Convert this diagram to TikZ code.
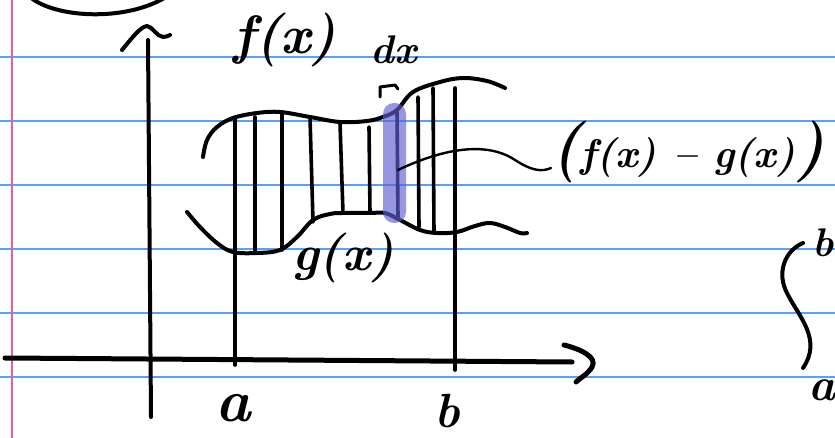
\documentclass[tikz,border=0pt]{standalone}
\definecolor{rule}{RGB}{96,160,232}
\definecolor{margin}{RGB}{238,90,165}
\definecolor{hilite}{RGB}{94,94,209}
\tikzset{
  pen/.style={draw=black,line width=4pt},
  thinpen/.style={draw=black,line width=2.4pt},
  hatch/.style={draw=black,line width=3.6pt},
  axis/.style={draw=black,line width=5pt},
  hand/.style={inner sep=0pt,font=\bfseries\itshape},
}
\newcommand{\sz}[1]{\fontsize{#1}{#1}\selectfont}
\begin{document}
\begin{tikzpicture}[x=1pt,y=-1pt,line cap=round,line join=round]
\useasboundingbox (0,0) rectangle (835,438);
\fill[white] (0,0) rectangle (835,438);

% ruled paper
\foreach \y in {57,121,185,249,313,377}
  \draw[rule,line width=1.8pt] (0,\y) -- (835,\y);
\draw[margin,line width=1.8pt] (12,0) -- (12,438);

% stray arc at the top
\draw[pen] (30,-3) .. controls (55,18) and (125,22) .. (166,-3);

% axes
\draw[pen] (148,40) -- (151,417);
\draw[pen] (122,50) .. controls (132,38) and (140,27) .. (147,26)
  .. controls (153,27) and (156,36) .. (163,37) .. controls (166,37) and (168,36) .. (170,35);
\draw[axis] (5,358) -- (572,362);
\draw[axis] (564,345) .. controls (580,349) and (598,357) .. (592,367)
  .. controls (588,374) and (580,378) .. (576,382);

% upper curve f(x)
\draw[pen] plot[smooth,tension=0.6] coordinates {(203,157) (207,140) (217,127) (233,118)
  (257,113) (280,112) (310,117) (340,122) (367,121) (383,117) (397,110) (413,92)
  (440,82) (463,78) (487,81) (505,88)};
% lower curve g(x)
\draw[pen] plot[smooth,tension=0.6] coordinates {(187,212) (200,227) (217,243) (233,252)
  (257,253) (280,250) (297,237) (313,220) (330,214) (343,213) (370,213) (385,213)
  (400,220) (420,230) (437,233) (457,232) (475,226) (490,223) (505,227) (520,233) (527,233)};

% limits a and b
\draw[hatch] (235,118) -- (235,365);
\draw[hatch] (455,88) -- (455,370);
% strips between the curves
\draw[hatch] (255,117) -- (255,253);
\draw[hatch] (282,112) -- (282,250);
\draw[hatch] (310,117) -- (313,222);
\draw[hatch] (340,123) -- (343,213);
\draw[hatch] (369,127) -- (370,213);
\draw[hatch] (397,112) -- (398,217);
\draw[hatch] (418,97) -- (419,227);
\draw[hatch] (433,88) -- (434,233);

% highlighted strip of width dx
\fill[hilite,opacity=0.65,rounded corners=11pt] (383,103) rectangle (406,223);
\draw[line width=3pt] (380,97) -- (380,87) -- (395,85) -- (398,89);
\coordinate (strip) at (398,170);

% labels
\node[hand] (fl) at (285,40) {\sz{54}f(x)};
\node[hand] (gl) at (343,258) {\sz{50}g(x)};
\node[hand] (dxl) at (394,50) {\sz{40}dx};
\node[hand] (al) at (233,408) {\sz{60}a};
\node[hand] (bl) at (447,411) {\sz{48}b};
\node[hand,anchor=west] (diff) at (551,152)
  {{\sz{62}(}\sz{40}f(x) -- g(x){\sz{62})}};

\draw[thinpen] (strip) .. controls (440,150) and (485,140) .. (515,160)
  .. controls (532,171) and (542,172) .. ([yshift=-16pt]diff.west);

% integral from a to b at the right edge
\draw[pen] (803,243) .. controls (786,250) and (775,272) .. (788,295)
  .. controls (800,318) and (822,340) .. (803,368);
\node[hand] (ib) at (823,243) {\sz{40}b};
\node[hand] (ia) at (822,390) {\sz{46}a};
\end{tikzpicture}
\end{document}
